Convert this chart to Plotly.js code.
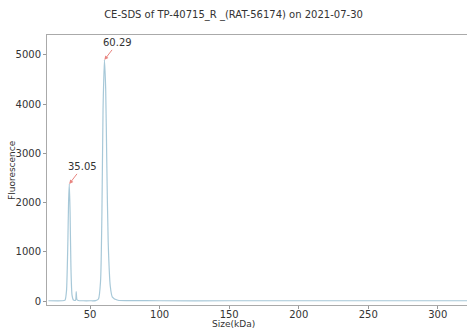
<!DOCTYPE html>
<html><head><meta charset="utf-8">
<script src="https://cdn.plot.ly/plotly-3.0.1.min.js"></script>
<style>html,body{margin:0;padding:0;background:#fff}#c{width:467px;height:329px}</style>
</head><body><div id="c"></div>
<script>
const sizeKDa = [20, 30, 32, 33, 34, 34.5, 35.05, 35.6, 36.2, 37, 38, 39.5, 40, 40.5, 41.5, 45, 50, 54, 56, 57.5, 58.5, 59.3, 60.29, 61.2, 62, 63, 64.5, 66, 70, 80, 100, 150, 200, 250, 300, 325];
const fluorescence = [5, 5, 20, 200, 1200, 2000, 2380, 1800, 700, 120, 20, 15, 190, 30, 10, 5, 5, 8, 40, 400, 1800, 3900, 4900, 4300, 2800, 1200, 300, 80, 15, 8, 5, 5, 5, 5, 5, 5];
const peakLabels = ["35.05", "60.29"];
const peakX = [35.05, 60.29];
const peakY = [2380, 4900];
const titleText = "CE-SDS of TP-40715_R _(RAT-56174) on 2021-07-30";
const xTitle = "Size(kDa)";
const yTitle = "Fluorescence";

const font = {family: "DejaVu Sans", size: 10, color: "#333"};
const annotations = peakLabels.map((t, i) => ({
  x: peakX[i], y: peakY[i], xref: "x", yref: "y", text: t,
  showarrow: true, arrowhead: 2, arrowsize: 0.8, arrowwidth: 1,
  arrowcolor: "#e8847f", ax: 13, ay: -17,
  font: {family: "DejaVu Sans", size: 10, color: "#333"}
}));
annotations.push({xref: "paper", yref: "paper", x: (233 - 47) / 420, y: -19 / 270, yanchor: "middle", xanchor: "center",
  text: xTitle, showarrow: false, font: {family: "DejaVu Sans", size: 9, color: "#333"}});
annotations.push({xref: "paper", yref: "paper", x: -35 / 420, y: 0.5, xanchor: "center", yanchor: "middle", textangle: -90,
  text: yTitle, showarrow: false, font: {family: "DejaVu Sans", size: 9, color: "#333"}});

Plotly.newPlot("c", [{
  x: sizeKDa, y: fluorescence, type: "scatter", mode: "lines",
  line: {color: "rgba(120,170,195,0.65)", width: 1.2, shape: "spline", smoothing: 0.6}
}], {
  width: 467, height: 329,
  margin: {l: 47, r: 0, t: 35, b: 24},
  paper_bgcolor: "#fff", plot_bgcolor: "#fff",
  showlegend: false,
  font: font,
  title: {text: titleText, x: 0.5, xanchor: "center", y: 0.955, yanchor: "middle", font: {family: "DejaVu Sans", size: 10, color: "#333"}},
  xaxis: {range: [19, 321], tickvals: [50, 100, 150, 200, 250, 300], ticks: "outside", ticklen: 3, tickcolor: "#999",
    ticklabelstandoff: -3,
    showgrid: false, zeroline: false, showline: true, linecolor: "#aaa", linewidth: 1, mirror: true,
    tickfont: font},
  yaxis: {range: [-81, 5405], tickvals: [0, 1000, 2000, 3000, 4000, 5000], ticks: "outside", ticklen: 3, tickcolor: "#999",
    showgrid: false, zeroline: false, showline: true, linecolor: "#aaa", linewidth: 1,
    tickfont: font},
  annotations: annotations
}, {displayModeBar: false, staticPlot: true});
</script></body></html>
